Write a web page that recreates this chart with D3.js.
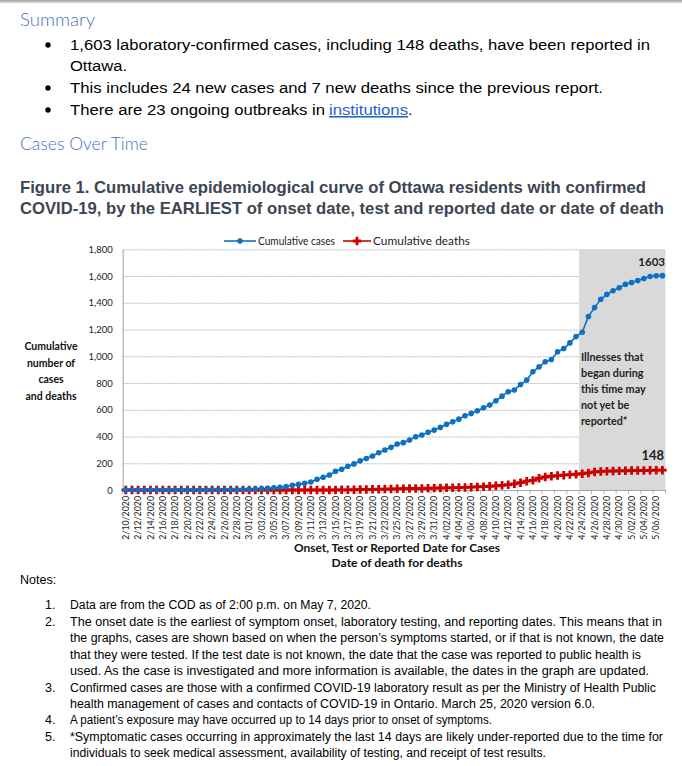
<!DOCTYPE html>
<html><head><meta charset="utf-8">
<script src="https://cdn.jsdelivr.net/npm/d3@7"></script>
<style>body{margin:0;background:#fff}svg{display:block}</style>
</head><body><div id="chart"></div>
<script>
const dates = [
"2/10/2020","2/11/2020","2/12/2020","2/13/2020","2/14/2020","2/15/2020","2/16/2020","2/17/2020","2/18/2020","2/19/2020",
"2/20/2020","2/21/2020","2/22/2020","2/23/2020","2/24/2020","2/25/2020","2/26/2020","2/27/2020","2/28/2020","2/29/2020",
"3/01/2020","3/02/2020","3/03/2020","3/04/2020","3/05/2020","3/06/2020","3/07/2020","3/08/2020","3/09/2020","3/10/2020",
"3/11/2020","3/12/2020","3/13/2020","3/14/2020","3/15/2020","3/16/2020","3/17/2020","3/18/2020","3/19/2020","3/20/2020",
"3/21/2020","3/22/2020","3/23/2020","3/24/2020","3/25/2020","3/26/2020","3/27/2020","3/28/2020","3/29/2020","3/30/2020",
"3/31/2020","4/01/2020","4/02/2020","4/03/2020","4/04/2020","4/05/2020","4/06/2020","4/07/2020","4/08/2020","4/09/2020",
"4/10/2020","4/11/2020","4/12/2020","4/13/2020","4/14/2020","4/15/2020","4/16/2020","4/17/2020","4/18/2020","4/19/2020",
"4/20/2020","4/21/2020","4/22/2020","4/23/2020","4/24/2020","4/25/2020","4/26/2020","4/27/2020","4/28/2020","4/29/2020",
"4/30/2020","5/01/2020","5/02/2020","5/03/2020","5/04/2020","5/05/2020","5/06/2020","5/07/2020"];
const cumulativeCases = [
0,0,0,0,0,0,0,0,0,0,0,0,
1,1,1,1,2,2,3,4,
5,7,10,12,17,20,25,35,42,50,
60,80,95,112,140,155,178,195,218,236,
254,279,299,319,344,354,374,398,411,431,
448,468,491,510,530,555,573,593,615,635,
667,702,735,747,789,822,884,921,959,976,
1033,1058,1100,1147,1180,1298,1364,1426,1463,1490,
1512,1538,1552,1566,1582,1597,1602,1603];
const cumulativeDeaths = [
0,0,0,0,0,0,0,0,0,0,0,0,0,0,0,0,0,0,0,0,0,0,0,0,0,0,0,0,0,0,0,0,0,0,0,
1,1,2,3,4,5,6,7,8,9,
10,11,11,12,13,14,15,16,17,18,
19,21,23,25,28,31,35,40,46,55,
66,72,88,97,103,108,111,115,118,122,
128,135,139,141,142,143,144,145,146,146,147,148,148];
const yTicks = [0,200,400,600,800,1000,1200,1400,1600,1800];
const shadeStart = "4/24/2020";
const seriesNames = ["Cumulative cases","Cumulative deaths"];

const W = 682, H = 766;
const svg = d3.select("#chart").append("svg").attr("width", W).attr("height", H);

// top rule
svg.append("rect").attr("x",0).attr("y",0).attr("width",W).attr("height",3).attr("fill","#d4d4d4");
svg.append("rect").attr("x",0).attr("y",0).attr("width",W).attr("height",1.5).attr("fill","#a9a9a9");

const HEAD = "Lato, 'Open Sans', sans-serif";
const BODY = "'Liberation Sans', Arial, sans-serif";
const CH = "Lato, 'Noto Sans', sans-serif";

function txt(x, y, s, o) {
  const t = svg.append("text").attr("x", x).attr("y", y).text(s)
    .attr("font-family", o.family || BODY).attr("font-size", o.size || 13)
    .attr("fill", o.fill || "#000");
  if (o.weight) t.attr("font-weight", o.weight);
  if (o.len) t.attr("textLength", o.len).attr("lengthAdjust", "spacingAndGlyphs");
  if (o.anchor) t.attr("text-anchor", o.anchor);
  return t;
}

// Summary
txt(20, 26, "Summary", {family: HEAD, size: 17.5, fill: "#4472c4", weight: 300, len: 75});
[45, 88, 110].forEach(yc => svg.append("circle").attr("cx", 48).attr("cy", yc).attr("r", 2.7).attr("fill", "#000"));
const bul = [
  [50, "1,603 laboratory-confirmed cases, including 148 deaths, have been reported in", 580],
  [71, "Ottawa.", 57],
  [93, "This includes 24 new cases and 7 new deaths since the previous report.", 533],
  [115, "There are 23 ongoing outbreaks in", 255]
];
bul.forEach(b => txt(70, b[0], b[1], {size: 15.5, len: b[2]}));
txt(329, 115, "institutions", {size: 15.5, len: 79, fill: "#1f62c9"}).attr("text-decoration", "underline");
txt(408, 115, ".", {size: 15.5});
txt(20, 150, "Cases Over Time", {family: HEAD, size: 17.5, fill: "#4472c4", weight: 300, len: 128});

// Figure title
txt(20, 193, "Figure 1. Cumulative epidemiological curve of Ottawa residents with confirmed", {size: 16.5, weight: "bold", fill: "#3c4552", len: 626});
txt(20, 214, "COVID-19, by the EARLIEST of onset date, test and reported date or date of death", {size: 16.5, weight: "bold", fill: "#3c4552", len: 644});

// Chart
const x0 = 122.7, x1 = 665.5, yTop = 249.3, yBot = 490;
const x = d3.scaleBand().domain(dates).range([x0, x1]).padding(0);
const y = d3.scaleLinear().domain([0, 1800]).range([yBot, yTop]);
const bw = x.bandwidth();
const cx = d => x(d) + bw / 2;

const BLUE = "#0c71c3", RED = "#cc0000";

// gridlines
svg.append("g").attr("transform", `translate(${x0},0)`)
  .call(d3.axisLeft(y).tickValues(yTicks.filter(v => v > 0)).tickSize(-(x1 - x0)).tickFormat(""))
  .call(g => g.select(".domain").remove())
  .call(g => g.selectAll("line").attr("stroke", "#b5b5b5").attr("stroke-dasharray", "2,1").attr("stroke-width", 0.9));

// shaded region
svg.append("rect").attr("x", x(shadeStart)).attr("y", yTop)
  .attr("width", x1 - x(shadeStart)).attr("height", yBot - yTop).attr("fill", "#d9d9d9");

// y axis
svg.append("g").attr("transform", `translate(${x0},0)`)
  .call(d3.axisLeft(y).tickValues(yTicks).tickSize(0).tickPadding(10).tickFormat(d3.format(",")))
  .call(g => g.select(".domain").attr("stroke", "#a6a6a6"))
  .call(g => g.selectAll("text").attr("font-family", CH).attr("font-size", 9.5).attr("fill", "#222"));

// x axis
const labelDates = dates.filter((d, i) => i % 2 === 0);
svg.append("g").attr("transform", `translate(0,${yBot})`)
  .call(d3.axisBottom(x).tickValues(labelDates).tickSize(0).tickPadding(0))
  .call(g => g.select(".domain").attr("stroke", "#a6a6a6"))
  .call(g => g.selectAll("text").attr("font-family", CH).attr("font-size", 8.8).attr("fill", "#222")
    .attr("text-anchor", "end").attr("dy", "0.35em")
    .attr("transform", "translate(0,6) rotate(-90)"));
svg.append("g").selectAll("line").data(labelDates).join("line")
  .attr("x1", d => x(d)).attr("x2", d => x(d)).attr("y1", yBot).attr("y2", yBot + 4)
  .attr("stroke", "#a6a6a6").attr("stroke-width", 0.8);
svg.append("line").attr("x1", x1).attr("x2", x1).attr("y1", yBot).attr("y2", yBot + 4).attr("stroke", "#a6a6a6").attr("stroke-width", 0.8);

// lines
const line = d3.line().x((v, i) => cx(dates[i])).y(v => y(v));
svg.append("path").datum(cumulativeDeaths).attr("d", line).attr("fill", "none").attr("stroke", RED).attr("stroke-width", 1.6);
svg.append("path").datum(cumulativeCases).attr("d", line).attr("fill", "none").attr("stroke", BLUE).attr("stroke-width", 1.6);
const cross = d3.symbol().type(d3.symbolCross).size(40);
svg.append("g").selectAll("path").data(cumulativeDeaths).join("path")
  .attr("d", cross).attr("fill", RED)
  .attr("transform", (v, i) => `translate(${cx(dates[i])},${y(v)})`);
svg.append("g").selectAll("circle").data(cumulativeCases).join("circle")
  .attr("cx", (v, i) => cx(dates[i])).attr("cy", v => y(v)).attr("r", 2.8).attr("fill", BLUE);

// legend
const lg = svg.append("g");
lg.append("line").attr("x1", 224).attr("x2", 256).attr("y1", 241).attr("y2", 241).attr("stroke", BLUE).attr("stroke-width", 1.6);
lg.append("circle").attr("cx", 240).attr("cy", 241).attr("r", 2.8).attr("fill", BLUE);
txt(258, 245, seriesNames[0], {family: CH, size: 10.5, fill: "#222", len: 77});
lg.append("line").attr("x1", 343).attr("x2", 371).attr("y1", 241).attr("y2", 241).attr("stroke", RED).attr("stroke-width", 1.6);
lg.append("path").attr("d", cross).attr("fill", RED).attr("transform", "translate(357,241)");
txt(373, 245, seriesNames[1], {family: CH, size: 10.5, fill: "#222", len: 97});

// axis titles
const yt = ["Cumulative", "number of", "cases", "and deaths"];
yt.forEach((s, i) => txt(51, 350 + i * 16.7, s, {family: CH, size: 10.5, weight: "bold", anchor: "middle", fill: "#111"}));
txt(397, 552, "Onset, Test or Reported Date for Cases", {family: CH, size: 11, weight: "bold", anchor: "middle", fill: "#111", len: 206});
txt(397, 567, "Date of death for deaths", {family: CH, size: 11, weight: "bold", anchor: "middle", fill: "#111", len: 131});

// annotations
const last = dates.length - 1;
txt(665, y(cumulativeCases[last]) - 10, String(cumulativeCases[last]), {family: CH, size: 11.5, weight: "bold", anchor: "end", fill: "#222"});
txt(664, y(cumulativeDeaths[last]) - 10, String(cumulativeDeaths[last]), {family: CH, size: 13, weight: "bold", anchor: "end", fill: "#222"});
["Illnesses that", "began during", "this time may", "not yet be", "reported*"].forEach((s, i) =>
  txt(581, 361 + i * 16, s, {family: CH, size: 10.8, weight: "bold", fill: "#222"}));

// Notes
txt(20, 584, "Notes:", {size: 12.5});
const notes = [
  [609, "1.", "Data are from the COD as of 2:00 p.m. on May 7, 2020.", 301],
  [626, "2.", "The onset date is the earliest of symptom onset, laboratory testing, and reporting dates. This means that in", 592],
  [642, "", "the graphs, cases are shown based on when the person’s symptoms started, or if that is not known, the date", 594],
  [659, "", "that they were tested. If the test date is not known, the date that the case was reported to public health is", 571],
  [675, "", "used. As the case is investigated and more information is available, the dates in the graph are updated.", 579],
  [692, "3.", "Confirmed cases are those with a confirmed COVID-19 laboratory result as per the Ministry of Health Public", 586],
  [708, "", "health management of cases and contacts of COVID-19 in Ontario. March 25, 2020 version 6.0.", 525],
  [724, "4.", "A patient’s exposure may have occurred up to 14 days prior to onset of symptoms.", 422],
  [741, "5.", "*Symptomatic cases occurring in approximately the last 14 days are likely under-reported due to the time for", 593],
  [757, "", "individuals to seek medical assessment, availability of testing, and receipt of test results.", 476]
];
notes.forEach(n => {
  if (n[1]) txt(45, n[0], n[1], {size: 12.5});
  txt(70, n[0], n[2], {size: 12.5, len: n[3]});
});
</script></body></html>
